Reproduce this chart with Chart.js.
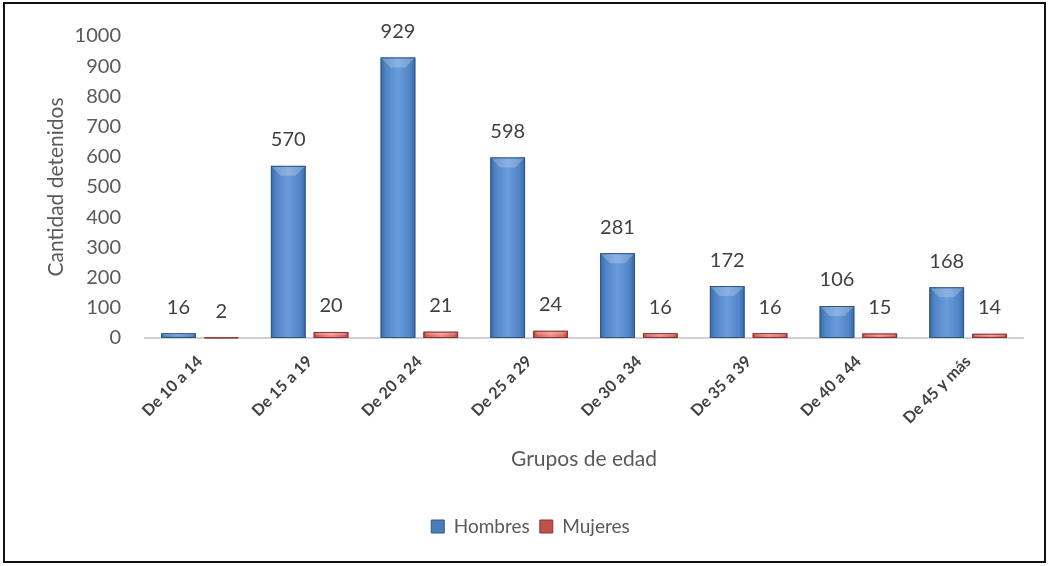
<!DOCTYPE html>
<html>
<head>
<meta charset="utf-8">
<script src="https://cdn.jsdelivr.net/npm/chart.js@4"></script>
<style>
  body { margin: 0; background: #fff; }
  #wrap { width: 1050px; height: 566px; position: relative; }
</style>
</head>
<body>
<div id="wrap"><canvas id="chart"></canvas></div>
<script>
// grupos de edad y cantidad de detenidos
const ageGroups = ["De 10 a 14", "De 15 a 19", "De 20 a 24", "De 25 a 29", "De 30 a 34", "De 35 a 39", "De 40 a 44", "De 45 y más"];
const hombres = [16, 570, 929, 598, 281, 172, 106, 168];
const mujeres = [2, 20, 21, 24, 16, 16, 15, 14];
const yTicks = [0, 100, 200, 300, 400, 500, 600, 700, 800, 900, 1000];

const FONT = "Lato, 'Open Sans', sans-serif";

// colores de biselado (borde oscuro, centro claro)
const bevel = [
  { edge: "#3A69A6", mid: "#4F84C6", light: "#6A9CDB", border: "#2F5687" },
  { edge: "#B84744", mid: "#DC6663", light: "#EF8E8B", border: "#8E3431" },
];

// marco y fondo blanco
const framePlugin = {
  id: "frame",
  beforeDraw(chart) {
    const { ctx, width, height } = chart;
    ctx.save();
    ctx.fillStyle = "#fff";
    ctx.fillRect(0, 0, width, height);
    ctx.restore();
  },
  afterDraw(chart) {
    const { ctx } = chart;
    ctx.save();
    ctx.strokeStyle = "#111";
    ctx.lineWidth = 2;
    ctx.strokeRect(4, 3, 1041, 559);
    ctx.restore();
  },
};

// relleno con gradiente y biselado sobre cada barra + etiquetas
const bevelPlugin = {
  id: "bevel",
  afterDatasetsDraw(chart) {
    const { ctx } = chart;
    ctx.save();
    chart.data.datasets.forEach((ds, i) => {
      const c = bevel[i];
      chart.getDatasetMeta(i).data.forEach((el) => {
        const { x, y, width, base } = el.getProps(["x", "y", "width", "base"], true);
        const h = base - y;
        const l = x - width / 2, r = x + width / 2;
        const g = ctx.createLinearGradient(l, 0, r, 0);
        g.addColorStop(0, c.edge);
        g.addColorStop(0.15, c.mid);
        g.addColorStop(0.5, c.light);
        g.addColorStop(0.85, c.mid);
        g.addColorStop(1, c.edge);
        ctx.fillStyle = g;
        ctx.fillRect(l, y, width, h);
        const b = Math.min(10, h / 2);
        if (h > 3) {
          ctx.fillStyle = "rgba(255,255,255,0.22)";
          ctx.beginPath();
          ctx.moveTo(l, y);
          ctx.lineTo(r, y);
          ctx.lineTo(r - b, y + b);
          ctx.lineTo(l + b, y + b);
          ctx.closePath();
          ctx.fill();
        }
        ctx.strokeStyle = c.border;
        ctx.lineWidth = 1;
        ctx.strokeRect(l + 0.5, y + 0.5, width - 1, Math.max(h - 1, 0));
      });
    });
    // etiquetas de valores
    ctx.fillStyle = "#404040";
    ctx.font = "20px " + FONT;
    ctx.textAlign = "center";
    ctx.textBaseline = "middle";
    chart.data.datasets.forEach((ds, i) => {
      chart.getDatasetMeta(i).data.forEach((el, j) => {
        const { x, y } = el.getProps(["x", "y"], true);
        ctx.fillText(ds.data[j], x, y - 26);
      });
    });
    ctx.restore();
  },
};

new Chart(document.getElementById("chart"), {
  type: "bar",
  data: {
    labels: ageGroups,
    datasets: [
      {
        label: "Hombres",
        data: hombres,
        backgroundColor: "#4A7EBB",
        borderColor: bevel[0].border,
        borderWidth: 1,
        categoryPercentage: 0.78,
        barPercentage: 0.81,
      },
      {
        label: "Mujeres",
        data: mujeres,
        backgroundColor: "#C0504D",
        borderColor: bevel[1].border,
        borderWidth: 1,
        categoryPercentage: 0.78,
        barPercentage: 0.81,
      },
    ],
  },
  options: {
    responsive: true,
    maintainAspectRatio: false,
    animation: false,
    layout: { padding: { top: 31, left: 38, right: 27, bottom: 20 } },
    plugins: {
      legend: {
        position: "bottom",
        labels: {
          boxWidth: 13,
          boxHeight: 13,
          padding: 10,
          color: "#595959",
          font: { family: FONT, size: 19 },
        },
      },
      tooltip: { enabled: false },
    },
    scales: {
      x: {
        grid: { display: false },
        border: { color: "#D0D0D0", width: 2 },
        ticks: {
          color: "#404040",
          font: { family: FONT, size: 16, weight: "bold" },
          maxRotation: 45,
          minRotation: 45,
          padding: 6,
        },
        title: {
          display: true,
          text: "Grupos de edad",
          color: "#595959",
          font: { family: FONT, size: 21 },
          padding: { top: 4, bottom: 35 },
        },
        afterFit(scale) {
          scale.height = 169;
        },
      },
      y: {
        min: 0,
        max: 1000,
        afterBuildTicks(scale) {
          scale.ticks = yTicks.map((v) => ({ value: v }));
        },
        grid: { display: false, drawTicks: false },
        border: { display: false },
        ticks: {
          color: "#595959",
          font: { family: FONT, size: 20 },
          padding: 24,
          callback: (v) => String(v),
        },
        title: {
          display: true,
          text: "Cantidad detenidos",
          color: "#595959",
          font: { family: FONT, size: 21 },
          padding: { top: 6, bottom: 0 },
        },
        afterFit(scale) {
          scale.width = 107;
        },
      },
    },
  },
  plugins: [framePlugin, bevelPlugin],
});
</script>
</body>
</html>
